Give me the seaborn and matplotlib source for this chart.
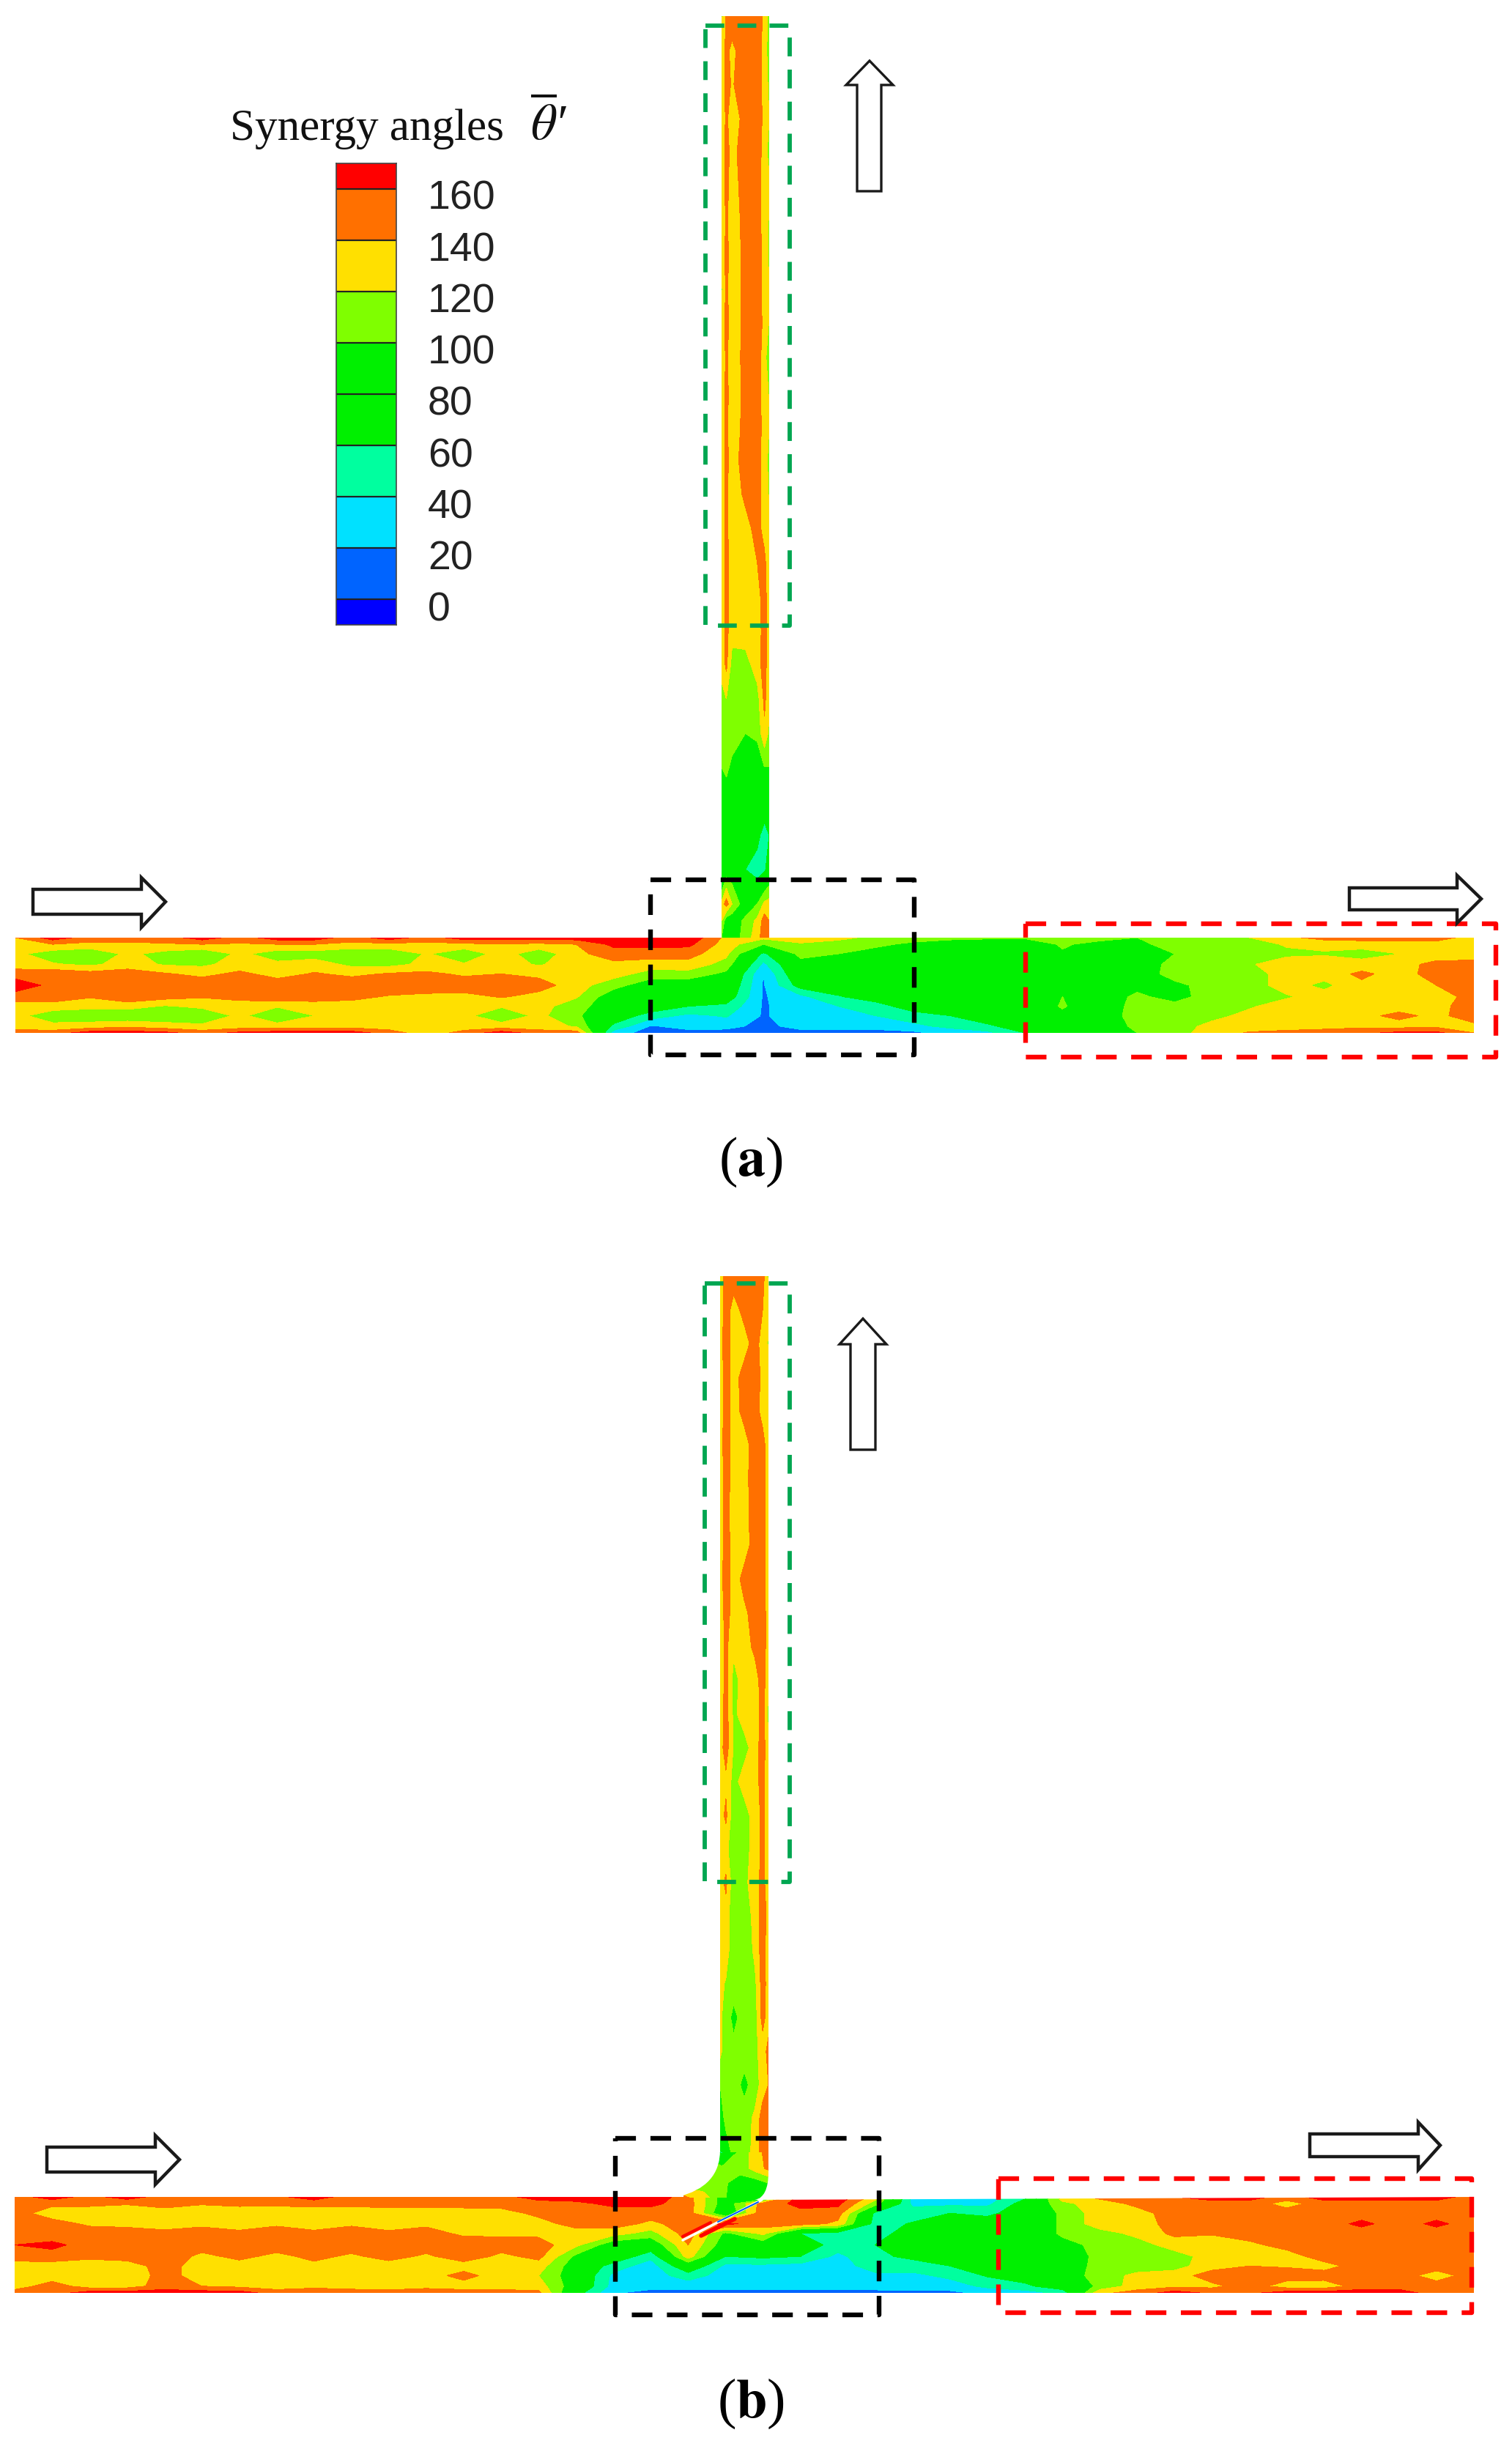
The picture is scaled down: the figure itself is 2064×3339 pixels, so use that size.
#!/usr/bin/env python3
"""Synergy angle contours in a T-junction, panels (a) and (b)."""
import numpy as np
import matplotlib
matplotlib.use('Agg')
import matplotlib.pyplot as plt
from matplotlib.colors import ListedColormap, BoundaryNorm
from matplotlib.patches import Polygon, PathPatch
from matplotlib.path import Path
import seaborn as sns

sns.set_theme(style='white')
plt.rcParams['font.family'] = ['Liberation Sans', 'DejaVu Sans']
plt.rcParams['mathtext.fontset'] = 'stix'

W, H = 2064, 3339
levels = [-20, 0, 20, 40, 60, 80, 100, 120, 140, 160, 180]
level_colors = ['#0000ff', '#0064ff', '#00e1ff', '#00ff9f', '#00f000', '#00f000',
                '#7fff00', '#ffe000', '#ff7000', '#ff0000']
tick_labels = ['160', '140', '120', '100', '80', '60', '40', '20', '0']
# half-band samples for the legend strip, top to bottom
legend_vals = [170, 150, 150, 130, 130, 110, 110, 90, 90, 70, 70, 50, 50, 30, 30, 10, 10, -10]

# across-pipe stations (0 = top wall, 1 = bottom wall)
across_h = [0, .07, .17, .28, .38, .5, .62, .72, .82, .93, 1]
# across-pipe stations of the risers (0 = left wall, 1 = right wall)
across_va = [0, .1, .22, .5, .75, .9, 1]
across_vb = [0, .12, .28, .5, .72, .88, 1]

# panel (a) run, one list per station along the pipe, left to right
a_run = [
    [140, 135, 125, 128, 152, 170, 152, 128, 125, 130, 150],
    [170, 140, 108, 122, 155, 155, 155, 128, 110, 125, 150],
    [150, 135, 102, 116, 148, 155, 142, 125, 108, 128, 170],
    [150, 135, 125, 128, 152, 152, 155, 128, 104, 135, 170],
    [150, 138, 112, 118, 142, 155, 148, 118, 106, 128, 165],
    [170, 140, 102, 116, 134, 155, 142, 125, 103, 125, 150],
    [150, 138, 125, 128, 145, 155, 148, 128, 125, 128, 165],
    [170, 140, 108, 125, 132, 152, 155, 122, 102, 128, 170],
    [170, 140, 110, 130, 142, 155, 150, 130, 120, 130, 170],
    [150, 135, 102, 115, 135, 155, 146, 130, 130, 130, 170],
    [170, 135, 104, 114, 142, 155, 138, 130, 125, 128, 150],
    [150, 135, 122, 125, 145, 155, 134, 130, 130, 128, 128],
    [170, 135, 104, 122, 136, 155, 132, 130, 125, 128, 148],
    [170, 138, 130, 128, 140, 152, 142, 122, 106, 128, 170],
    [170, 135, 106, 118, 134, 150, 132, 128, 125, 128, 150],
    [170, 140, 135, 130, 130, 128, 122, 108, 104, 118, 150],
    [175, 165, 150, 135, 128, 108, 85, 85, 75, 55, 30],
    [175, 165, 150, 130, 112, 85, 85, 75, 50, 18, 10],
    [175, 165, 148, 132, 112, 85, 75, 60, 35, 28, 12],
    [135, 130, 125, 112, 95, 85, 75, 55, 42, 28, 10],
    [125, 100, 55, 35, 20, 18, 18, 18, 18, 12, 8],
    [128, 118, 108, 90, 85, 70, 35, 30, 30, 30, 10],
    [125, 112, 100, 88, 85, 75, 58, 40, 30, 28, 12],
    [115, 105, 90, 85, 85, 85, 72, 50, 40, 28, 12],
    [110, 95, 88, 85, 85, 85, 85, 72, 50, 35, 15],
    [105, 90, 85, 85, 85, 85, 85, 75, 60, 45, 28],
    [102, 92, 85, 85, 85, 85, 85, 85, 78, 55, 35],
    [102, 90, 85, 85, 85, 85, 85, 85, 85, 75, 60],
    [105, 102, 98, 85, 85, 85, 100, 102, 95, 85, 80],
    [105, 95, 88, 85, 92, 85, 85, 85, 85, 85, 95],
    [100, 95, 85, 85, 88, 92, 105, 108, 110, 105, 100],
    [115, 108, 100, 108, 108, 95, 90, 108, 112, 112, 112],
    [100, 110, 108, 110, 110, 108, 112, 112, 115, 125, 130],
    [120, 112, 112, 118, 112, 112, 112, 118, 125, 130, 142],
    [135, 122, 116, 130, 128, 128, 118, 128, 130, 132, 145],
    [148, 125, 118, 130, 128, 115, 128, 130, 130, 132, 150],
    [150, 128, 112, 128, 145, 135, 130, 135, 135, 135, 155],
    [150, 128, 120, 130, 130, 130, 130, 132, 145, 132, 165],
    [150, 130, 125, 148, 150, 140, 130, 135, 135, 135, 165],
    [130, 125, 125, 150, 150, 150, 148, 148, 150, 135, 140],
]

# panel (b) run
b_run = [
    [150, 150, 150, 150, 150, 160, 150, 130, 128, 130, 150],
    [170, 145, 128, 150, 148, 165, 152, 130, 128, 150, 150],
    [152, 145, 128, 136, 152, 152, 146, 126, 126, 130, 170],
    [170, 142, 124, 133, 152, 152, 152, 126, 126, 130, 170],
    [150, 148, 130, 130, 146, 152, 155, 152, 148, 150, 170],
    [152, 142, 125, 134, 152, 152, 134, 126, 130, 140, 170],
    [150, 145, 128, 128, 146, 152, 146, 130, 128, 135, 170],
    [155, 145, 125, 136, 152, 152, 134, 126, 128, 130, 150],
    [170, 148, 126, 128, 146, 152, 146, 134, 128, 135, 152],
    [150, 145, 128, 136, 152, 152, 136, 126, 128, 132, 150],
    [155, 148, 130, 126, 146, 152, 148, 130, 125, 128, 150],
    [150, 148, 128, 136, 148, 152, 136, 126, 130, 135, 150],
    [150, 148, 130, 128, 136, 152, 152, 130, 148, 130, 150],
    [152, 148, 132, 126, 136, 150, 135, 126, 128, 130, 150],
    [170, 150, 145, 132, 135, 150, 146, 130, 120, 130, 145],
    [170, 155, 150, 148, 130, 125, 95, 85, 85, 85, 70],
    [175, 165, 150, 150, 128, 85, 80, 50, 35, 32, 22],
    [175, 165, 150, 135, 112, 80, 45, 30, 30, 28, 12],
    [148, 150, 150, 150, 150, 140, 130, 80, 50, 28, 12],
    [85, 85, 75, 165, 95, 85, 60, 35, 30, 28, 12],
    [60, 150, 155, 150, 125, 85, 65, 35, 30, 28, 12],
    [175, 165, 155, 150, 60, 75, 60, 32, 30, 28, 12],
    [175, 165, 150, 135, 50, 50, 35, 30, 30, 28, 12],
    [130, 110, 55, 50, 50, 60, 55, 50, 35, 30, 12],
    [35, 35, 50, 62, 72, 72, 65, 50, 35, 30, 15],
    [30, 35, 60, 72, 72, 72, 72, 60, 45, 30, 15],
    [30, 35, 55, 72, 72, 72, 72, 72, 62, 45, 25],
    [55, 70, 72, 72, 72, 72, 72, 72, 72, 55, 30],
    [130, 115, 105, 105, 105, 90, 80, 90, 85, 75, 45],
    [145, 130, 130, 130, 112, 108, 108, 105, 110, 105, 135],
    [155, 145, 132, 130, 125, 112, 108, 110, 125, 130, 148],
    [160, 150, 150, 148, 145, 128, 112, 112, 130, 135, 170],
    [170, 150, 150, 150, 142, 128, 128, 132, 150, 135, 155],
    [170, 150, 150, 150, 150, 135, 128, 140, 150, 150, 155],
    [150, 132, 150, 150, 150, 148, 130, 138, 150, 130, 170],
    [170, 150, 150, 150, 150, 150, 150, 132, 150, 128, 170],
    [170, 150, 150, 165, 150, 150, 150, 150, 150, 150, 170],
    [170, 150, 150, 150, 150, 150, 150, 150, 150, 150, 170],
    [170, 150, 150, 165, 150, 150, 150, 150, 130, 150, 150],
    [150, 150, 150, 150, 150, 150, 150, 150, 150, 150, 145],
]

# panel (a) riser, one list per height, top to bottom
a_riser = [
    [115, 146, 152, 155, 152, 135, 112],
    [125, 145, 135, 152, 150, 132, 108],
    [125, 146, 138, 152, 152, 132, 115],
    [122, 145, 125, 150, 150, 135, 120],
    [125, 146, 134, 150, 152, 130, 112],
    [125, 146, 130, 150, 152, 128, 125],
    [118, 145, 124, 150, 150, 130, 118],
    [125, 146, 130, 145, 152, 132, 115],
    [115, 146, 124, 148, 152, 130, 122],
    [125, 146, 130, 145, 150, 135, 118],
    [122, 145, 126, 148, 152, 128, 105],
    [125, 145, 130, 145, 150, 130, 118],
    [122, 146, 126, 148, 150, 132, 120],
    [125, 145, 130, 150, 152, 128, 115],
    [125, 146, 126, 145, 150, 130, 118],
    [125, 145, 128, 132, 148, 132, 122],
    [125, 146, 130, 130, 140, 145, 125],
    [125, 146, 130, 130, 132, 150, 125],
    [125, 146, 128, 130, 128, 150, 125],
    [125, 145, 112, 112, 130, 150, 125],
    [115, 120, 112, 112, 112, 145, 125],
    [105, 110, 110, 100, 105, 135, 115],
    [100, 105, 95, 85, 85, 100, 100],
    [95, 88, 85, 85, 85, 85, 85],
    [95, 85, 85, 85, 70, 45, 60],
    [55, 85, 85, 60, 45, 55, 75],
    [125, 150, 120, 85, 100, 125, 128],
    [120, 85, 85, 105, 125, 150, 140],
    [100, 85, 85, 110, 130, 155, 148],
]
a_riser_y = [22, 69, 115, 162, 208, 255, 302, 348, 395, 441, 488, 535, 581, 628, 674,
             721, 768, 814, 861, 907, 954, 1001, 1047, 1094, 1140, 1187, 1234, 1257, 1280]

# panel (b) riser
b_riser = [
    [115, 155, 152, 152, 152, 150, 115],
    [125, 152, 130, 148, 152, 140, 125],
    [130, 152, 130, 130, 150, 130, 118],
    [125, 152, 130, 150, 150, 135, 130],
    [125, 152, 130, 148, 152, 130, 125],
    [130, 152, 130, 130, 152, 150, 125],
    [125, 150, 130, 132, 152, 150, 125],
    [125, 150, 128, 130, 152, 150, 125],
    [128, 150, 130, 130, 150, 150, 125],
    [130, 152, 128, 148, 152, 150, 125],
    [125, 150, 130, 135, 150, 150, 130],
    [125, 145, 125, 130, 145, 150, 130],
    [125, 148, 112, 130, 130, 150, 125],
    [125, 150, 115, 130, 125, 150, 112],
    [130, 150, 118, 112, 130, 150, 125],
    [125, 135, 112, 130, 130, 150, 118],
    [128, 145, 105, 110, 130, 145, 125],
    [130, 125, 108, 112, 128, 145, 130],
    [130, 145, 105, 115, 130, 148, 125],
    [125, 130, 105, 105, 128, 148, 135],
    [125, 130, 105, 102, 125, 150, 125],
    [125, 118, 108, 105, 115, 150, 130],
    [125, 108, 95, 108, 110, 148, 128],
    [125, 108, 105, 108, 115, 128, 148],
    [100, 105, 108, 95, 108, 130, 140],
    [85, 108, 108, 108, 125, 150, 150],
    [55, 85, 108, 108, 128, 150, 155],
]
b_riser_y = [1742, 1788, 1834, 1880, 1926, 1972, 2018, 2064, 2110, 2156, 2202, 2248, 2294,
             2340, 2386, 2432, 2478, 2524, 2570, 2616, 2662, 2708, 2754, 2800, 2846, 2892, 2938]

# panel (b) elbow, above the run
b_elbow = [
    [108, 108, 55, 108, 128, 150],
    [108, 108, 105, 108, 128, 145],
    [108, 108, 105, 90, 88, 100],
    [145, 128, 105, 85, 85, 85],
]
b_elbow_x = [933, 960, 985, 1010, 1030, 1049]
b_elbow_y = [2938, 2960, 2980, 3000]

cmap = ListedColormap(sns.color_palette(level_colors))
norm = BoundaryNorm(levels, cmap.N)

fig = plt.figure(figsize=(W / 100, H / 100), dpi=100, facecolor='white')
ax = fig.add_axes([0, 0, 1, 1])
ax.set_xlim(0, W)
ax.set_ylim(H, 0)
ax.axis('off')


def field(x, y, z, clip):
    cs = ax.contourf(x, y, z, levels=levels, cmap=cmap, norm=norm, antialiased=False, zorder=2)
    cs.set_clip_path(clip)


def pipe_stations(top, bottom):
    return [top + f * (bottom - top) for f in across_h]


# panel (a) pipe
outline_a = Path([(21, 1280), (985, 1280), (985, 22), (1050, 22), (1050, 1280), (2012, 1280),
                  (2012, 1410), (21, 1410), (21, 1280)], closed=False)
clip_a = PathPatch(outline_a, transform=ax.transData, facecolor='none', edgecolor='none')
ax.add_patch(clip_a)
field(np.linspace(21, 2012, len(a_run)), pipe_stations(1280, 1410), np.array(a_run).T, clip_a)
field([985 + f * 65 for f in across_va], a_riser_y, np.array(a_riser), clip_a)

# panel (b) pipe, with the bent branch
verts_b = [(20, 2999), (925, 2999), (983, 2985), (983, 2935), (983, 1742), (1049, 1742),
           (1049, 2965), (1049, 3000), (1030, 3003), (2012, 2999), (2012, 3130), (20, 3130), (20, 2999)]
codes_b = [Path.MOVETO, Path.LINETO, Path.CURVE3, Path.CURVE3, Path.LINETO, Path.LINETO, Path.LINETO,
           Path.CURVE3, Path.CURVE3, Path.LINETO, Path.LINETO, Path.LINETO, Path.LINETO]
clip_b = PathPatch(Path(verts_b, codes_b), transform=ax.transData, facecolor='none', edgecolor='none')
ax.add_patch(clip_b)
field(np.linspace(20, 2012, len(b_run)), pipe_stations(2999, 3130), np.array(b_run).T, clip_b)
field([983 + f * 66 for f in across_vb], b_riser_y, np.array(b_riser), clip_b)
field(b_elbow_x, b_elbow_y, np.array(b_elbow), clip_b)

# thin blade in the junction of (b)
ax.plot([932, 1040], [3058, 3003], color='white', lw=2.5, zorder=3)
ax.plot([980, 1035], [3033, 3006], color='#0064ff', lw=1.5, zorder=3)
ax.plot([932, 970], [3053, 3034], color='#ff0000', lw=3, zorder=3)
ax.plot([957, 1003], [3052, 3029], color='#ff0000', lw=4, zorder=3)


def dashed_box(x0, y0, x1, y1, color, lw=4.6):
    ax.plot([x0, x1, x1, x0, x0], [y0, y0, y1, y1, y0], color=color, lw=lw,
            ls=(0, (4.4, 3.1)), dash_capstyle='butt', zorder=4)


dashed_box(963, 35, 1078, 854, '#00a651', 4.2)
dashed_box(888, 1201, 1248, 1440, 'black')
dashed_box(1400, 1261, 2042, 1443, '#ff0000')
dashed_box(962, 1752, 1078, 2569, '#00a651', 4.2)
dashed_box(840, 2919, 1200, 3160, 'black')
dashed_box(1363, 2974, 2009, 3157, '#ff0000')


def arrow_h(x0, barb, tip, s0, s1, h0, h1):
    yc = (s0 + s1) / 2
    pts = [(x0, s0), (barb, s0), (barb, h0), (tip, yc), (barb, h1), (barb, s1), (x0, s1)]
    ax.add_patch(Polygon(pts, closed=True, facecolor='white', edgecolor='#1a1a1a', lw=3.2, zorder=4))


def arrow_v(xc, half, s0, s1, tip, barb, base):
    pts = [(s0, base), (s0, barb), (xc - half, barb), (xc, tip), (xc + half, barb), (s1, barb), (s1, base)]
    ax.add_patch(Polygon(pts, closed=True, facecolor='white', edgecolor='#1a1a1a', lw=2.4, zorder=4))


arrow_h(45, 193, 226, 1214, 1248, 1198, 1266)
arrow_h(1842, 1989, 2022, 1212, 1242, 1195, 1260)
arrow_v(1187, 32, 1170, 1203, 83, 116, 261)
arrow_h(64, 212, 245, 2931, 2965, 2915, 2982)
arrow_h(1788, 1936, 1966, 2913, 2944, 2897, 2962)
arrow_v(1178, 32, 1161, 1195, 1800, 1835, 1979)

# legend strip
cax = fig.add_axes([459 / W, 1 - 853 / H, 82 / W, 630 / H])
sns.heatmap(np.array(legend_vals).reshape(-1, 1), ax=cax, cmap=cmap, norm=norm, cbar=False,
            xticklabels=False, yticklabels=False, linewidths=0)
for i in [1, 3, 5, 7, 9, 11, 13, 15, 17]:
    cax.axhline(i, color='#222222', lw=1.6)
for s in cax.spines.values():
    s.set_visible(True)
    s.set_color('#444444')
    s.set_linewidth(1.2)

for i, lab in enumerate(tick_labels):
    ax.text(584, 272 + i * 70.2, lab, fontsize=40, va='center', ha='left', color='#222222')

ax.text(314, 191, "Synergy angles", fontsize=44, family='Liberation Serif',
        va='baseline', ha='left', color='#111111')
ax.text(724, 191, r"$\overline{\theta}$", fontsize=50, va='baseline', ha='left', color='#111111')
ax.text(756, 191, "\u2032", fontsize=50, family=['Liberation Serif', 'DejaVu Serif'],
        style='italic', va='baseline', ha='left', color='#111111')
ax.text(1025, 1605, r"($\mathbf{a}$)", fontsize=55, family='Liberation Serif', va='baseline', ha='center', color='black')
ax.text(1025, 3300, r"($\mathbf{b}$)", fontsize=55, family='Liberation Serif', va='baseline', ha='center', color='black')

fig.savefig('out.png', dpi=100, facecolor='white')
print('Wrote out.png')
